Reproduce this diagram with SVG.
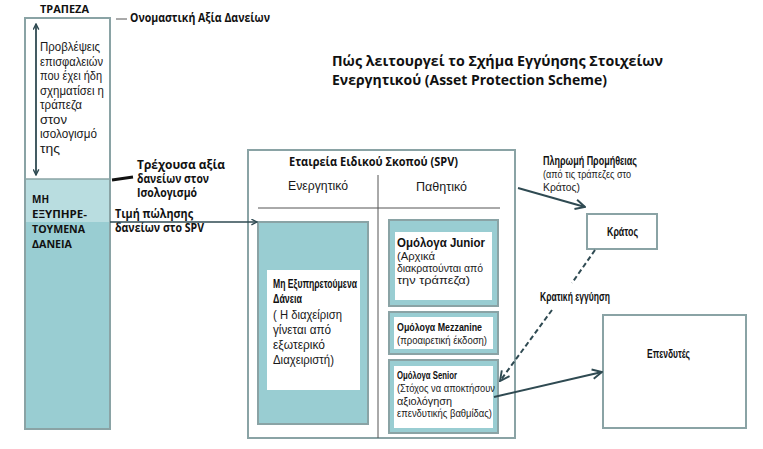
<svg xmlns="http://www.w3.org/2000/svg" width="763" height="449" viewBox="0 0 763 449">
<defs>
<marker id="ah" viewBox="0 0 10 10" refX="9" refY="5" markerWidth="7" markerHeight="7" orient="auto-start-reverse" markerUnits="userSpaceOnUse">
<path d="M1,1 L9,5 L1,9" fill="none" stroke="#2f4a52" stroke-width="2"/>
</marker>
<marker id="ah2" viewBox="0 0 10 10" refX="9" refY="5" markerWidth="12" markerHeight="12" orient="auto-start-reverse" markerUnits="userSpaceOnUse">
<path d="M1,1 L9,5 L1,9" fill="none" stroke="#2f4a52" stroke-width="1.6"/>
</marker>
<style>
.t{font-family:"Liberation Sans","Open Sans",sans-serif;fill:#1a1a1a}
.b{font-family:"Open Sans","Liberation Sans",sans-serif;font-weight:bold;fill:#111}
.c{font-family:"Liberation Sans","Roboto",sans-serif;font-weight:bold;fill:#111}
.box{fill:#fff;stroke:#8aa3a5;stroke-width:2}
.teal{fill:#99cdd2;stroke:#8aa3a5;stroke-width:2}
.inner{fill:#fff;stroke:none}
.ln{stroke:#2f4a52;fill:none}
</style>
</defs>
<g id="title">
<text class="b" x="332" y="66" font-size="15" textLength="331" lengthAdjust="spacingAndGlyphs">Πώς λειτουργεί το Σχήμα Εγγύησης Στοιχείων</text>
<text class="b" x="332" y="85" font-size="15" textLength="275" lengthAdjust="spacingAndGlyphs">Ενεργητικού (Asset Protection Scheme)</text>
</g>
<g id="bank">
<rect x="25" y="18" width="85" height="411" class="box"/>
<rect x="26" y="179" width="83" height="249" fill="#99cdd2"/>
<rect x="26" y="179" width="83" height="43" fill="#b9dde0"/>
<line x1="25" y1="179" x2="110" y2="179" stroke="#8aa3a5" stroke-width="1.5"/>
<rect x="25" y="18" width="85" height="411" fill="none" stroke="#8aa3a5" stroke-width="2"/>
<text class="b" x="40" y="13" font-size="11" textLength="49" lengthAdjust="spacingAndGlyphs">ΤΡΑΠΕΖΑ</text>
<text class="t" x="40" y="51" font-size="12" textLength="60" lengthAdjust="spacingAndGlyphs">Προβλέψεις</text>
<text class="t" x="40" y="65.5" font-size="12" textLength="63" lengthAdjust="spacingAndGlyphs">επισφαλειών</text>
<text class="t" x="40" y="80" font-size="12" textLength="62" lengthAdjust="spacingAndGlyphs">που έχει ήδη</text>
<text class="t" x="40" y="94.5" font-size="12" textLength="64" lengthAdjust="spacingAndGlyphs">σχηματίσει η</text>
<text class="t" x="40" y="109" font-size="12" textLength="42" lengthAdjust="spacingAndGlyphs">τράπεζα</text>
<text class="t" x="40" y="123.5" font-size="12" textLength="27" lengthAdjust="spacingAndGlyphs">στον</text>
<text class="t" x="40" y="138" font-size="12" textLength="57" lengthAdjust="spacingAndGlyphs">ισολογισμό</text>
<text class="t" x="40" y="152.5" font-size="12" textLength="20" lengthAdjust="spacingAndGlyphs">της</text>
<text class="b" x="32" y="203" font-size="11" textLength="17" lengthAdjust="spacingAndGlyphs">ΜΗ</text>
<text class="b" x="32" y="218" font-size="11" textLength="55" lengthAdjust="spacingAndGlyphs">ΕΞΥΠΗΡΕ-</text>
<text class="b" x="32" y="233" font-size="11" textLength="53" lengthAdjust="spacingAndGlyphs">ΤΟΥΜΕΝΑ</text>
<text class="b" x="32" y="248" font-size="11" textLength="40" lengthAdjust="spacingAndGlyphs">ΔΑΝΕΙΑ</text>
</g>
<g id="bank-labels">
<line x1="116" y1="19" x2="127" y2="19" stroke="#555" stroke-width="1"/>
<text class="b" x="130" y="22" font-size="11.5" textLength="140" lengthAdjust="spacingAndGlyphs">Ονομαστική  Αξία Δανείων</text>
<line x1="112" y1="180" x2="133" y2="177" stroke="#111" stroke-width="3"/>
<text class="b" x="137" y="169" font-size="11.5" textLength="88" lengthAdjust="spacingAndGlyphs">Τρέχουσα αξία</text>
<text class="b" x="137" y="183" font-size="11.5" textLength="72" lengthAdjust="spacingAndGlyphs">δανείων στον</text>
<text class="b" x="137" y="197" font-size="11.5" textLength="60" lengthAdjust="spacingAndGlyphs">Ισολογισμό</text>
<text class="b" x="115" y="218" font-size="11.5" textLength="78" lengthAdjust="spacingAndGlyphs">Τιμή πώλησης</text>
<text class="b" x="115" y="232" font-size="11.5" textLength="89" lengthAdjust="spacingAndGlyphs">δανείων στο SPV</text>
</g>
<g id="spv">
<rect x="248" y="150" width="267" height="288" class="box"/>
<text class="b" x="289" y="166" font-size="11.5" textLength="169" lengthAdjust="spacingAndGlyphs">Εταιρεία Ειδικού Σκοπού (SPV)</text>
<text class="t" x="288" y="190" font-size="12" textLength="60" lengthAdjust="spacingAndGlyphs">Ενεργητικό</text>
<text class="t" x="416" y="191" font-size="12" textLength="51" lengthAdjust="spacingAndGlyphs">Παθητικό</text>
<line x1="378" y1="175" x2="378" y2="438" stroke="#555" stroke-width="1"/>
<line x1="258" y1="208" x2="500" y2="208" stroke="#555" stroke-width="1"/>
</g>
<g id="assets">
<rect x="258" y="222" width="110" height="202" class="teal"/>
<rect x="267" y="270" width="93" height="120" class="inner"/>
<text class="c" x="273" y="288" font-size="12.5" textLength="84" lengthAdjust="spacingAndGlyphs">Μη Εξυπηρετούμενα</text>
<text class="c" x="273" y="303" font-size="12.5" textLength="29" lengthAdjust="spacingAndGlyphs">Δάνεια</text>
<text class="t" x="273" y="319" font-size="12" textLength="69" lengthAdjust="spacingAndGlyphs">( Η διαχείριση</text>
<text class="t" x="273" y="334" font-size="12" textLength="58" lengthAdjust="spacingAndGlyphs">γίνεται από</text>
<text class="t" x="273" y="349" font-size="12" textLength="52" lengthAdjust="spacingAndGlyphs">εξωτερικό</text>
<text class="t" x="273" y="364" font-size="12" textLength="61" lengthAdjust="spacingAndGlyphs">Διαχειριστή)</text>
</g>
<g id="junior">
<rect x="389" y="220" width="109" height="86" class="teal"/>
<rect x="395" y="232" width="97" height="68" class="inner"/>
<text class="c" x="397" y="247" font-size="12.5" textLength="88" lengthAdjust="spacingAndGlyphs">Ομόλογα Junior</text>
<text class="t" x="397" y="260" font-size="10" textLength="38" lengthAdjust="spacingAndGlyphs">(Αρχικά</text>
<text class="t" x="397" y="272" font-size="10" textLength="86" lengthAdjust="spacingAndGlyphs">διακρατούνται από</text>
<text class="t" x="397" y="284" font-size="10" textLength="73" lengthAdjust="spacingAndGlyphs">την τράπεζα)</text>
</g>
<g id="mezzanine">
<rect x="389" y="312" width="109" height="42" class="teal"/>
<rect x="394" y="317" width="99" height="32" class="inner"/>
<text class="c" x="397" y="331" font-size="11.5" textLength="85" lengthAdjust="spacingAndGlyphs">Ομόλογα Mezzanine</text>
<text class="t" x="397" y="344" font-size="10" textLength="90" lengthAdjust="spacingAndGlyphs">(προαιρετική έκδοση)</text>
</g>
<g id="senior">
<rect x="389" y="360" width="109" height="73" class="teal"/>
<rect x="394" y="366" width="99" height="62" class="inner"/>
<text class="c" x="397" y="379" font-size="11.5" textLength="60" lengthAdjust="spacingAndGlyphs">Ομόλογα Senior</text>
<text class="t" x="397" y="392" font-size="10" textLength="98" lengthAdjust="spacingAndGlyphs">(Στόχος να αποκτήσουν</text>
<text class="t" x="397" y="405" font-size="10" textLength="55" lengthAdjust="spacingAndGlyphs">αξιολόγηση</text>
<text class="t" x="397" y="417" font-size="10" textLength="95" lengthAdjust="spacingAndGlyphs">επενδυτικής βαθμίδας)</text>
</g>
<g id="kratos">
<rect x="587" y="214" width="70" height="35" class="box"/>
<text class="c" x="607" y="236" font-size="12.5" textLength="31" lengthAdjust="spacingAndGlyphs">Κράτος</text>
</g>
<g id="investors">
<rect x="603" y="315" width="143" height="113" class="box"/>
<text class="c" x="647" y="358" font-size="12.5" textLength="43" lengthAdjust="spacingAndGlyphs">Επενδυτές</text>
</g>
<g id="connectors">
<line x1="36" y1="24" x2="36" y2="175" class="ln" stroke-width="1.8" marker-start="url(#ah)" marker-end="url(#ah)"/>
<line x1="110" y1="222" x2="257" y2="222" class="ln" stroke-width="1.5" marker-end="url(#ah)"/>
<line x1="518" y1="188" x2="585" y2="207" class="ln" stroke-width="2" marker-end="url(#ah2)"/>
<line x1="595" y1="250" x2="572" y2="283" class="ln" stroke-width="2" stroke-dasharray="5,3"/>
<line x1="552" y1="310" x2="500" y2="381" class="ln" stroke-width="2" stroke-dasharray="5,3" marker-end="url(#ah2)"/>
<line x1="494" y1="397" x2="602" y2="372" class="ln" stroke-width="2" marker-end="url(#ah2)"/>
</g>
<g id="edge-labels">
<text class="c" x="543" y="165" font-size="12.5" textLength="94" lengthAdjust="spacingAndGlyphs">Πληρωμή Προμήθειας</text>
<text class="t" x="543" y="178" font-size="10" textLength="88" lengthAdjust="spacingAndGlyphs">(από τις τράπεζες στο</text>
<text class="t" x="543" y="191" font-size="10" textLength="37" lengthAdjust="spacingAndGlyphs">Κράτος)</text>
<text class="c" x="540" y="301" font-size="12" textLength="70" lengthAdjust="spacingAndGlyphs">Κρατική εγγύηση</text>
</g>
</svg>
